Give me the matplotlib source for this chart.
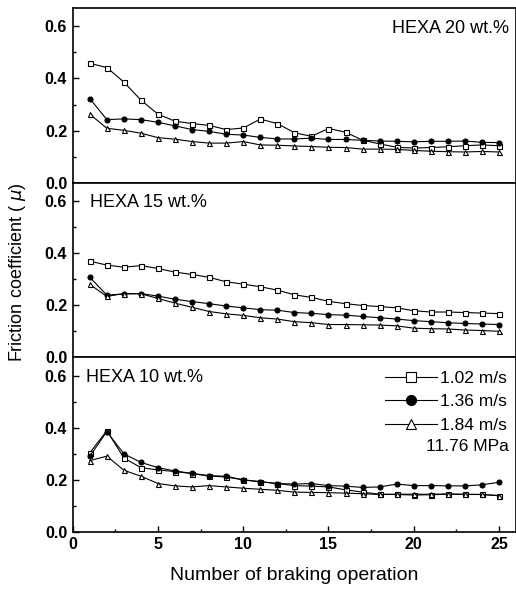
import matplotlib
matplotlib.use("Agg")
import matplotlib.pyplot as plt
from matplotlib.ticker import MultipleLocator

plt.rcParams["font.family"] = ["Liberation Sans", "DejaVu Sans"]

braking = list(range(1, 26))

# HEXA 20 wt.%
hexa20_102 = [0.458, 0.442, 0.386, 0.317, 0.263, 0.236, 0.227, 0.220, 0.204, 0.210,
              0.244, 0.227, 0.192, 0.178, 0.208, 0.194, 0.163, 0.149, 0.136, 0.133,
              0.135, 0.138, 0.142, 0.145, 0.142]
hexa20_136 = [0.323, 0.242, 0.245, 0.242, 0.232, 0.218, 0.204, 0.197, 0.186, 0.183,
              0.174, 0.168, 0.168, 0.171, 0.166, 0.166, 0.163, 0.160, 0.159, 0.157,
              0.159, 0.159, 0.160, 0.155, 0.154]
hexa20_184 = [0.263, 0.209, 0.201, 0.190, 0.173, 0.167, 0.158, 0.152, 0.152, 0.158,
              0.145, 0.144, 0.141, 0.139, 0.136, 0.135, 0.129, 0.129, 0.128, 0.124,
              0.121, 0.119, 0.118, 0.120, 0.118]

# HEXA 15 wt.%
hexa15_102 = [0.369, 0.354, 0.346, 0.352, 0.341, 0.327, 0.318, 0.307, 0.290, 0.281,
              0.271, 0.258, 0.240, 0.230, 0.215, 0.206, 0.199, 0.195, 0.190, 0.179,
              0.174, 0.174, 0.172, 0.170, 0.168]
hexa15_136 = [0.307, 0.239, 0.243, 0.245, 0.235, 0.223, 0.214, 0.206, 0.197, 0.190,
              0.183, 0.181, 0.172, 0.169, 0.164, 0.162, 0.157, 0.152, 0.147, 0.141,
              0.137, 0.133, 0.130, 0.128, 0.126]
hexa15_184 = [0.280, 0.234, 0.245, 0.244, 0.226, 0.208, 0.192, 0.176, 0.167, 0.161,
              0.152, 0.147, 0.137, 0.133, 0.126, 0.126, 0.125, 0.124, 0.121, 0.112,
              0.110, 0.109, 0.105, 0.103, 0.100]

# HEXA 10 wt.%
hexa10_102 = [0.304, 0.389, 0.284, 0.247, 0.238, 0.232, 0.224, 0.215, 0.211, 0.200,
              0.193, 0.186, 0.178, 0.176, 0.173, 0.162, 0.153, 0.145, 0.144, 0.142,
              0.143, 0.145, 0.144, 0.144, 0.139]
hexa10_136 = [0.291, 0.385, 0.300, 0.267, 0.247, 0.234, 0.225, 0.216, 0.214, 0.200,
              0.193, 0.186, 0.184, 0.186, 0.178, 0.176, 0.171, 0.173, 0.184, 0.178,
              0.178, 0.177, 0.177, 0.181, 0.191]
hexa10_184 = [0.274, 0.291, 0.237, 0.214, 0.186, 0.177, 0.173, 0.178, 0.173, 0.168,
              0.164, 0.160, 0.153, 0.152, 0.151, 0.149, 0.147, 0.144, 0.145, 0.145,
              0.145, 0.146, 0.145, 0.144, 0.140]

speed_labels = ["1.02 m/s", "1.36 m/s", "1.84 m/s"]
panel_titles = ["HEXA 20 wt.%", "HEXA 15 wt.%", "HEXA 10 wt.%"]
panels = [
    (hexa20_102, hexa20_136, hexa20_184),
    (hexa15_102, hexa15_136, hexa15_184),
    (hexa10_102, hexa10_136, hexa10_184),
]
styles = [
    dict(marker="s", mfc="white"),
    dict(marker="o", mfc="black"),
    dict(marker="^", mfc="white"),
]

fig = plt.figure(figsize=(5.16, 5.91), dpi=100)
left, width = 0.141, 0.859
bottom0, height = 0.0998, 0.2955

axes = []
for i in range(3):
    b = bottom0 + (2 - i) * height
    ax = fig.add_axes([left, b, width, height])
    axes.append(ax)
    for series, label, st in zip(panels[i], speed_labels, styles):
        ax.plot(braking, series, color="black", lw=0.8, ms=3.6, mec="black",
                mew=0.8, label=label, **st)
    ax.set_xlim(0, 26)
    ax.set_ylim(0, 0.67)
    ax.yaxis.set_minor_locator(MultipleLocator(0.1))
    ax.xaxis.set_major_locator(MultipleLocator(5))
    ax.xaxis.set_minor_locator(MultipleLocator(2.5))
    ax.set_yticks([0.0, 0.2, 0.4, 0.6])
    ax.set_yticklabels(["0.0", "0.2", "0.4", "0.6"], fontsize=11.5, fontweight="bold")
    ax.tick_params(axis="y", which="major", direction="in", length=4, width=1, pad=4)
    ax.tick_params(axis="y", which="minor", direction="in", length=2.5, width=1)
    for s in ax.spines.values():
        s.set_linewidth(1.2)
    if i < 2:
        ax.tick_params(axis="x", which="both", length=0, labelbottom=False)
    else:
        ax.tick_params(axis="x", which="major", direction="in", length=4, width=1)
        ax.tick_params(axis="x", which="minor", direction="in", length=2.5, width=1)
        for lab in ax.get_xticklabels():
            lab.set_fontsize(11.5)
            lab.set_fontweight("bold")

axes[0].text(0.985, 0.93, panel_titles[0], transform=axes[0].transAxes,
             ha="right", va="top", fontsize=13)
axes[1].text(0.04, 0.935, panel_titles[1], transform=axes[1].transAxes,
             ha="left", va="top", fontsize=13)
axes[2].text(0.03, 0.935, panel_titles[2], transform=axes[2].transAxes,
             ha="left", va="top", fontsize=13)

leg = axes[2].legend(loc="upper right", bbox_to_anchor=(1.0, 0.975), frameon=False,
                     fontsize=12.5, handlelength=3.0, handletextpad=0.2,
                     labelspacing=0.5, borderaxespad=0.1, markerscale=2.0)
axes[2].text(0.985, 0.49, "11.76 MPa", transform=axes[2].transAxes,
             ha="right", va="center", fontsize=12.5)

axes[2].set_xlabel("Number of braking operation", fontsize=14, labelpad=11)
fig.text(0.033, 0.54, "Friction coefficient ( $\\mu$)", rotation=90, ha="center",
         va="center", fontsize=13)

fig.savefig("out.png", dpi=100)
